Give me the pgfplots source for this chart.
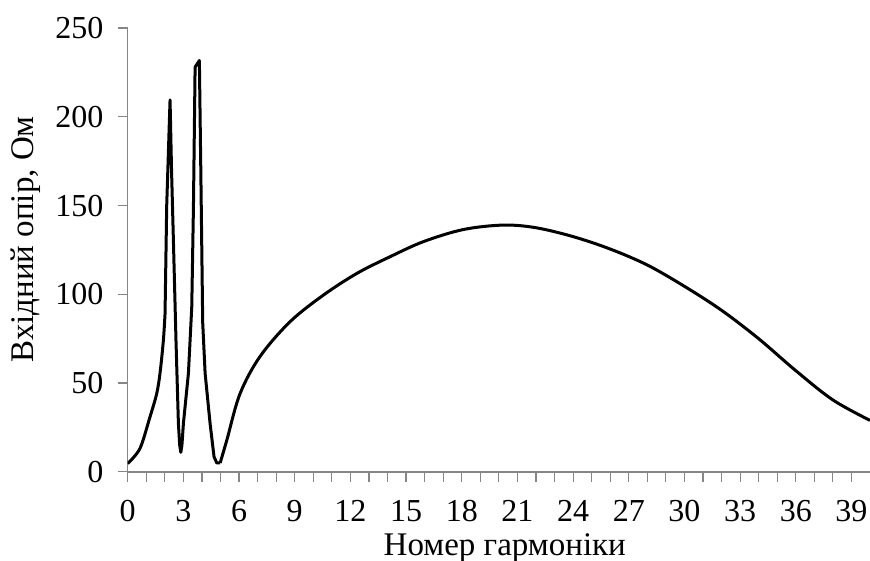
\documentclass[border=0pt]{standalone}
\usepackage{fontspec}
\setmainfont{Liberation Serif}
\usepackage{pgfplots}
\pgfplotsset{compat=1.18}
\usetikzlibrary{calc}
\definecolor{axgray}{RGB}{134,134,134}

\begin{document}
\begin{tikzpicture}
\begin{axis}[name=ax,
  scale only axis, width=371pt, height=221.85pt,
  xmin=0, xmax=40, ymin=0, ymax=250,
  axis lines=left, axis line style={axgray, line width=0.65pt, -},
  tick align=outside, tick style={axgray, line width=0.6pt},
  major tick length=5pt, minor tick length=5pt,
  xtick distance=3, minor x tick num=2,
  ytick distance=50,
  /pgf/number format/assume math mode=true,
  ticklabel style={font=\fontsize{16}{19}\selectfont, inner sep=0pt},
  xticklabel style={anchor=north, yshift=-9pt},
  yticklabel style={anchor=east, xshift=-7pt},
  xlabel={Номер гармоніки}, ylabel={Вхідний опір, Ом},
  label style={font=\fontsize{16.5}{19}\selectfont},
  xlabel style={at={(axis description cs:0.508,0)}, anchor=base, yshift=-41.65pt},
  ylabel style={at={(axis description cs:0,0.524)}, anchor=center, yshift=50.85pt},
]
% rise to the first resonance
\addplot[black, line width=1.5pt, smooth, tension=0.5] coordinates {
(0,4.7)(0.66,13.2)(1.2,31)(1.56,44)(1.74,55.6)(1.92,74)(2.01,89)};
% two sharp resonances
\addplot[black, line width=1.5pt, line join=round] coordinates {
(2.01,89)(2.1,150)(2.28,209.5)
(2.36,170)(2.46,130.6)(2.60,74)(2.73,27.3)(2.80,15)(2.86,11)(2.92,15)(3.0,27.3)(3.27,55.5)(3.45,93)
(3.54,149)(3.63,228)(3.86,231.7)(3.94,168)(4.04,84)(4.17,55.5)(4.44,27)(4.65,8.5)
(4.80,5)(4.98,5)};
% broad arch
\addplot[black, line width=1.5pt, smooth, tension=0.55] coordinates {
(4.98,5)(5.34,17.9)(6.05,44)(7.13,65)(8.75,84.6)(10.55,99.6)(12.35,111.8)
(14.14,121.2)(15.94,129.7)(18.09,136.5)(20.25,139)(22,137.5)(24,132.5)
(26,125.5)(28,116.5)(30,104.5)(32,91)(34,75)(36,57)(38,40.5)(40,29)};
\end{axis}
\pgfresetboundingbox
\path ($(ax.south west)+(-63.85pt,-44.15pt)$) rectangle ($(ax.north east)+(0pt,14pt)$);
\end{tikzpicture}
\end{document}
